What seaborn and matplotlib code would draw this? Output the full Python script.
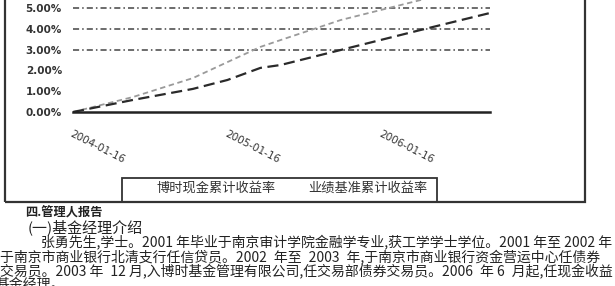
import matplotlib
matplotlib.use("Agg")
import matplotlib.pyplot as plt
import seaborn as sns
import pandas as pd
from matplotlib.patches import Rectangle

sns.set_theme(style="white")
plt.rcParams['font.family'] = ['Noto Sans CJK SC', 'DejaVu Sans']

# ---- data ----
dates = ["2004-01-16", "2004-06-06", "2004-10-26", "2005-01-16", "2005-04-04",
         "2005-05-22", "2005-10-11", "2006-04-18", "2006-09-30"]
fund_cum = [0.00, 0.72, 1.63, 2.40, 3.13, 3.46, 4.42, 5.38, 6.20]
bench_cum = [0.00, 0.58, 1.11, 1.54, 2.12, 2.26, 2.98, 3.94, 4.76]
series_names = ["博时现金累计收益率", "业绩基准累计收益率"]
xtick_dates = ["2004-01-16", "2005-01-16", "2006-01-16"]
ytick_vals = [0, 1, 2, 3, 4, 5]
ytick_labels = ["0.00%", "1.00%", "2.00%", "3.00%", "4.00%", "5.00%"]
grid_vals = [3, 4, 5]

heading = "四.管理人报告"
subheading = "(一)基金经理介绍"
para_lines = [
    "张勇先生,学士。2001 年毕业于南京审计学院金融学专业,获工学学士学位。2001 年至 2002 年",
    "于南京市商业银行北清支行任信贷员。2002\u2002年至\u20022003\u2002年,于南京市商业银行资金营运中心任债券",
    "交易员。2003 年\u200212 月,入博时基金管理有限公司,任交易部债券交易员。2006\u2002年 6\u2002月起,任现金收益",
    "基金经理。",
]

df = pd.DataFrame({
    "date": pd.to_datetime(dates * 2),
    "value": fund_cum + bench_cum,
    "series": [series_names[0]] * len(dates) + [series_names[1]] * len(dates),
})

W, H = 615, 286
fig = plt.figure(figsize=(W / 100, H / 100), dpi=100)
fig.patch.set_facecolor("white")

# outer frame
fig.add_artist(Rectangle((5 / W, 1 - 202 / H), 580 / W, 230 / H, transform=fig.transFigure,
                         fill=False, edgecolor="#333333", linewidth=1.6, clip_on=False))

ax = fig.add_axes([73 / W, 1 - 112 / H, (490 - 73) / W, 112 / H])
ax.set_facecolor("none")

sns.lineplot(data=df, x="date", y="value", hue="series", style="series",
             palette=["#9a9a9a", "#2a2a2a"],
             dashes=[(3, 2), (5, 2.5)], ax=ax, legend=False)
lines = ax.get_lines()
lines[0].set_linewidth(1.3)
lines[1].set_linewidth(1.6)

for g in grid_vals:
    ax.axhline(g, color="#444444", linewidth=1.1, linestyle=(0, (4, 2, 1, 2)), zorder=0)

ax.set_xlim(pd.Timestamp("2004-01-16"), pd.Timestamp("2006-09-30"))
ax.set_ylim(0, 112 / 20.8)
ax.set_yticks(ytick_vals)
ax.set_yticklabels(ytick_labels, fontsize=7.5, color="#333333", fontweight="bold",
                   family=['DejaVu Sans'])
ax.tick_params(axis="y", length=0, pad=8)
ax.set_xticks(pd.to_datetime(xtick_dates))
ax.set_xticklabels(xtick_dates, fontsize=7.5, color="#333333", rotation=-27,
                   ha="left", va="top", rotation_mode="anchor", family=['DejaVu Sans'])
ax.tick_params(axis="x", direction="in", length=3, width=1, color="#333333", pad=12)
ax.set_xlabel("")
ax.set_ylabel("")
for s in ["top", "right", "left"]:
    ax.spines[s].set_visible(False)
ax.spines["bottom"].set_linewidth(1.8)
ax.spines["bottom"].set_color("#222222")

# legend box
fig.add_artist(Rectangle((122 / W, 1 - 202 / H), (437 - 122) / W, 24 / H,
                         transform=fig.transFigure, fill=False, edgecolor="#333333",
                         linewidth=1.3, clip_on=False))
fig.text(216 / W, 1 - 188 / H, series_names[0], fontsize=9.5, ha="center", va="center",
         color="#333333")
fig.text(368 / W, 1 - 188 / H, series_names[1], fontsize=9.5, ha="center", va="center",
         color="#333333")

# text below
fig.text(25 / W, 1 - 213 / H, heading, fontsize=8.8, fontweight="bold", ha="left",
         va="center", color="#222222")
fig.text(28 / W, 1 - 227 / H, subheading, fontsize=10.8, ha="left", va="center", color="#222222")
line_y = [242, 256.5, 271, 285]
line_x = [41, 0, 0, -4]
for txt, yy, xx in zip(para_lines, line_y, line_x):
    fig.text(xx / W, 1 - yy / H, txt, fontsize=10, ha="left", va="center", color="#222222")

fig.savefig("out.png", dpi=100, facecolor="white")
